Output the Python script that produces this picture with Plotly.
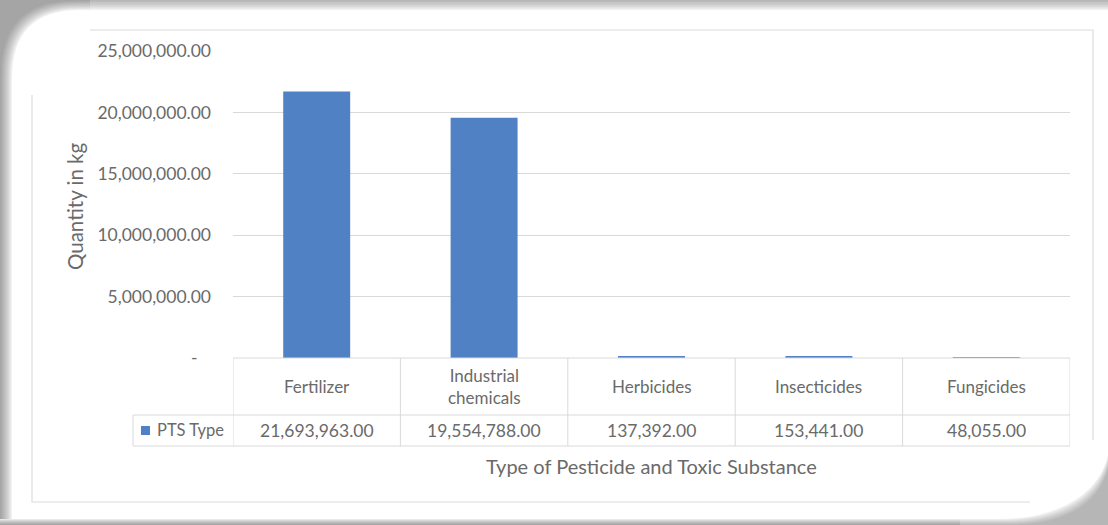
import plotly.graph_objects as go

# ---- data -------------------------------------------------------------
categories = ["Fertilizer", "Industrial chemicals", "Herbicides", "Insecticides", "Fungicides"]
category_labels = ["Fertilizer", "Industrial<br>chemicals", "Herbicides", "Insecticides", "Fungicides"]
quantities = [21693963.00, 19554788.00, 137392.00, 153441.00, 48055.00]
series_name = "PTS Type"

y_tick_values = [0, 5000000, 10000000, 15000000, 20000000, 25000000]
y_tick_labels = ["-\u00a0\u00a0\u00a0", "5,000,000.00", "10,000,000.00",
                 "15,000,000.00", "20,000,000.00", "25,000,000.00"]

x_title = "Type of Pesticide and Toxic Substance"
y_title = "Quantity in kg"

# ---- geometry (pixels) ------------------------------------------------
W, H = 1108, 525
PL, PR, PT, PB = 233, 1070, 51, 358          # plot area
PW, PH = PR - PL, PB - PT

BAR = "#4f81c4"
TXT = "#6a6a6a"
GRID = "#d9d9d9"
FONT = "Lato"

PAGE_L, PAGE_T, PAGE_B, PAGE_R = 12, 10, 519, 68   # page edges and corner radius


def xp(px):
    return (px - PL) / PW


def yp(py):
    return (PB - py) / PH


def P(x, y):
    x = min(max(x, 0), W)
    y = min(max(y, 0), H)
    return f"{xp(x):.5f},{yp(y):.5f}"


def gray(s):
    s = min(max(s, 0), 12)
    g = int(round(255 - 90 * ((s / 12) ** 0.75)))
    return f"rgb({g},{g},{g})"


def rect_px(x0, y0, x1, y1, color):
    return dict(type="rect", xref="paper", yref="paper",
                x0=xp(x0), x1=xp(x1), y0=yp(y1), y1=yp(y0),
                fillcolor=color, line=dict(width=0), layer="below")


def path_px(parts, color):
    return dict(type="path", path=" ".join(parts), xref="paper", yref="paper",
                fillcolor=color, line=dict(width=0), layer="below")


shapes = []

# ---- soft page shadow: rounded top-left corner -------------------------
C = 90
shapes.append(rect_px(0, 0, C, C, gray(12)))
for s in range(11, -1, -1):
    left = PAGE_L - s
    top = PAGE_T - s * PAGE_T / 12
    r = PAGE_R + s * 0.5
    shapes.append(path_px(["M", P(left, C), "L", P(left, top + r),
                           "Q", P(left, top), P(left + r, top),
                           "L", P(C, top), "L", P(C, C), "Z"], gray(s)))

# left and top shadow bands
for s in range(1, 13):
    shapes.append(rect_px(PAGE_L - s, C, PAGE_L - s + 1, PAGE_B, gray(s)))
    y0 = PAGE_T - s * PAGE_T / 12
    y1 = PAGE_T - (s - 1) * PAGE_T / 12
    shapes.append(rect_px(C, y0, W, y1, gray(s)))

# bottom shadow band
for s in range(1, 7):
    shapes.append(rect_px(0, PAGE_B + s - 1, 960, PAGE_B + s, gray(2 * s)))

# curled lower-right corner
CX, CY = 960, 430
shapes.append(rect_px(CX, CY, W, H, gray(9)))
for s in range(8, -1, -1):
    bot = PAGE_B + s * 0.75
    cx0 = 1000 + 2 * s
    cy1 = 455 + 2 * s
    shapes.append(path_px(["M", P(CX, CY), "L", P(W, CY), "L", P(W, cy1),
                           "C", P(W - 10, bot - 20), P(cx0 + 50, bot), P(cx0, bot),
                           "L", P(CX, bot), "Z"],
                          gray(s * 1.1)))

# inner chart border (broken at the rounded and curled corners)
border_style = dict(color="#dcdcdc", width=1.2)
for pts in ([(32, 95), (32, 502), (1030, 502)], [(90, 30), (1093, 30), (1093, 440)]):
    parts = ["M", P(*pts[0])] + sum((["L", P(*q)] for q in pts[1:]), [])
    shapes.append(dict(type="path", path=" ".join(parts), xref="paper", yref="paper",
                       fillcolor="rgba(0,0,0,0)", line=border_style, layer="below"))

# ---- data table under the bars -----------------------------------------
ROW1_TOP, ROW1_BOT, ROW2_BOT = 358, 415, 446
LEG_LEFT = 133
n = len(categories)

line_style = dict(color=GRID, width=1)
shapes.append(dict(type="line", xref="paper", yref="paper",
                   x0=0, x1=1, y0=yp(ROW1_TOP), y1=yp(ROW1_TOP), line=line_style))
for yy in (ROW1_BOT, ROW2_BOT):
    shapes.append(dict(type="line", xref="paper", yref="paper",
                       x0=xp(LEG_LEFT), x1=1, y0=yp(yy), y1=yp(yy), line=line_style))
for i in range(n + 1):
    shapes.append(dict(type="line", xref="x", yref="paper",
                       x0=i - 0.5, x1=i - 0.5, y0=yp(ROW1_TOP), y1=yp(ROW2_BOT),
                       line=line_style))
shapes.append(dict(type="line", xref="paper", yref="paper",
                   x0=xp(LEG_LEFT), x1=xp(LEG_LEFT), y0=yp(ROW1_BOT), y1=yp(ROW2_BOT),
                   line=line_style))
# legend key
shapes.append(dict(type="rect", xref="paper", yref="paper",
                   x0=xp(141), x1=xp(150), y0=yp(435), y1=yp(426),
                   fillcolor=BAR, line=dict(width=0)))

annotations = []
for i, (lab, val) in enumerate(zip(category_labels, quantities)):
    annotations.append(dict(x=i, y=yp((ROW1_TOP + ROW1_BOT) / 2), xref="x", yref="paper",
                            text=lab, showarrow=False, xanchor="center", yanchor="middle",
                            font=dict(family=FONT, size=17, color=TXT)))
    annotations.append(dict(x=i, y=yp((ROW1_BOT + ROW2_BOT) / 2), xref="x", yref="paper",
                            text=f"{val:,.2f}", showarrow=False, xanchor="center",
                            yanchor="middle", font=dict(family=FONT, size=17.5, color=TXT)))
annotations.append(dict(x=xp(155), y=yp((ROW1_BOT + ROW2_BOT) / 2), xref="paper", yref="paper",
                        text=series_name, showarrow=False, xanchor="left", yanchor="middle",
                        font=dict(family=FONT, size=16.5, color=TXT)))

# axis titles
annotations.append(dict(x=xp((PL + PR) / 2), y=yp(466), xref="paper", yref="paper",
                        text=x_title, showarrow=False, xanchor="center", yanchor="middle",
                        font=dict(family=FONT, size=20, color=TXT)))
annotations.append(dict(x=xp(75), y=yp(207), xref="paper", yref="paper",
                        text=y_title, showarrow=False, textangle=-90,
                        xanchor="center", yanchor="middle",
                        font=dict(family=FONT, size=20.5, color=TXT)))

fig = go.Figure(go.Bar(x=categories, y=quantities, name=series_name,
                       marker=dict(color=BAR, line=dict(width=0))))

fig.update_layout(
    width=W, height=H,
    margin=dict(l=PL, r=W - PR, t=PT, b=H - PB, autoexpand=False),
    paper_bgcolor="white",
    plot_bgcolor="rgba(0,0,0,0)",
    showlegend=False,
    bargap=0.6,
    shapes=shapes,
    annotations=annotations,
    xaxis=dict(showticklabels=False, showgrid=False, zeroline=False, showline=False,
               range=[-0.5, n - 0.5], fixedrange=True),
    yaxis=dict(range=[0, 25000000], tickvals=y_tick_values, ticktext=y_tick_labels,
               showgrid=True, gridcolor=GRID, gridwidth=1.3, zeroline=False, showline=False,
               ticks="", ticklabelstandoff=21,
               tickfont=dict(family=FONT, size=17.5, color=TXT), fixedrange=True),
)

fig.write_html("out.html", config={"displayModeBar": False})
